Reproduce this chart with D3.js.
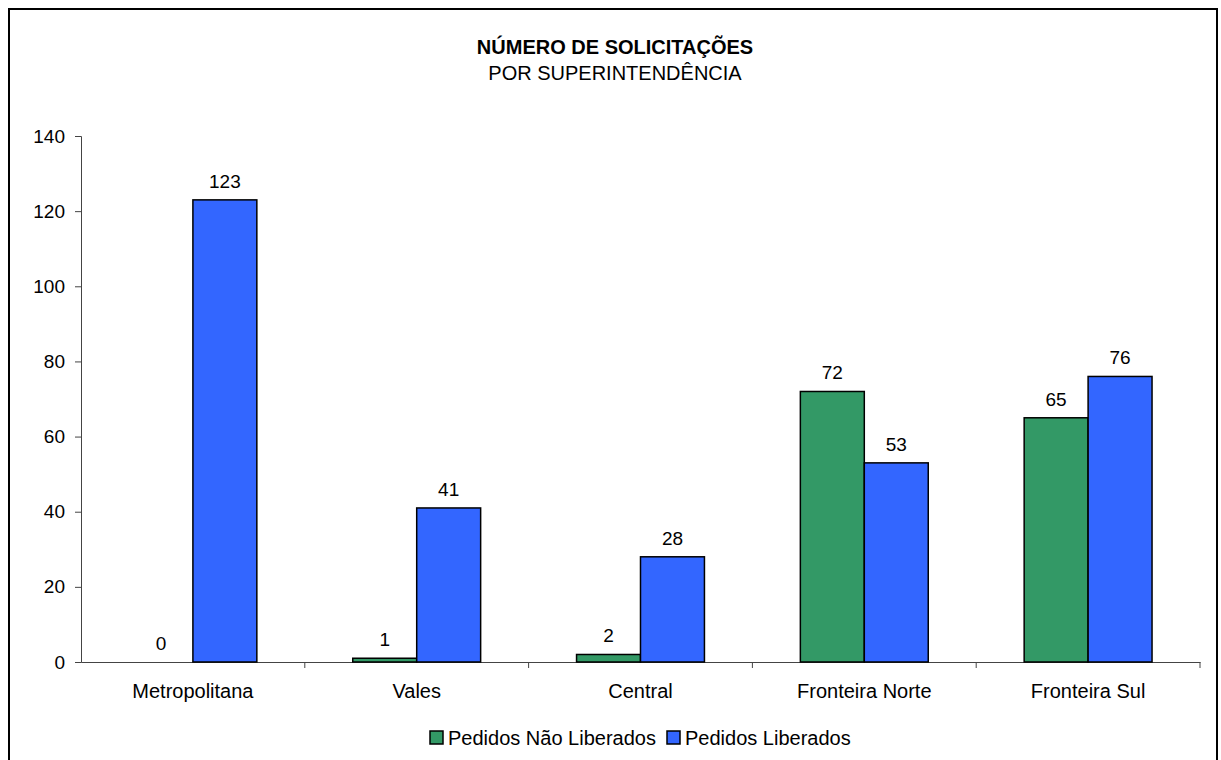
<!DOCTYPE html>
<html>
<head>
<meta charset="utf-8">
<script src="https://cdn.jsdelivr.net/npm/d3@7"></script>
<style>
  body { margin: 0; background: #fff; }
  text { font-family: "Liberation Sans", Arial, sans-serif; fill: #000; }
</style>
</head>
<body>
<div id="chart"></div>
<script>
// Data
const categories = ["Metropolitana", "Vales", "Central", "Fronteira Norte", "Fronteira Sul"];
const seriesNames = ["Pedidos Não Liberados", "Pedidos Liberados"];
const naoLiberados = [0, 1, 2, 72, 65];
const liberados = [123, 41, 28, 53, 76];
const yTicks = [0, 20, 40, 60, 80, 100, 120, 140];
const colors = ["#339966", "#3366FF"];

const W = 1221, H = 760;
const margin = {top: 136, right: 21, bottom: 98, left: 81};
const width = W - margin.left - margin.right,
      height = H - margin.top - margin.bottom;
const font = "Liberation Sans, Arial, sans-serif";

const svg = d3.select("#chart")
    .append("svg")
    .attr("width", W)
    .attr("height", H);

// outer frame
svg.append("rect")
    .attr("x", 9).attr("y", 9)
    .attr("width", 1208).attr("height", H)
    .attr("fill", "none")
    .attr("stroke", "#000")
    .attr("stroke-width", 2);

// Title
svg.append("text")
    .attr("x", 615).attr("y", 54)
    .attr("text-anchor", "middle")
    .style("font-size", "20px")
    .style("font-weight", "bold")
    .text("NÚMERO DE SOLICITAÇÕES");
svg.append("text")
    .attr("x", 615).attr("y", 80)
    .attr("text-anchor", "middle")
    .style("font-size", "20px")
    .text("POR SUPERINTENDÊNCIA");

const g = svg.append("g")
    .attr("transform", `translate(${margin.left},${margin.top})`);

// Scales
const x0 = d3.scaleBand()
    .domain(categories)
    .range([0, width]);

// two bars per category, gap width 150%
const bw = x0.bandwidth() / 3.5;
const x1 = d3.scaleBand()
    .domain([0, 1])
    .range([bw * 0.75, bw * 2.75]);

const y = d3.scaleLinear()
    .domain([0, 140])
    .range([height, 0]);

// Y axis
g.append("g")
    .call(d3.axisLeft(y).tickValues(yTicks).tickSize(6).tickPadding(10))
    .call(a => a.select(".domain").attr("stroke", "#444"))
    .call(a => a.selectAll(".tick line").attr("stroke", "#444"))
    .call(a => a.selectAll("text").style("font-size", "19px").style("font-family", font).attr("fill", "#000"));

// X axis
g.append("g")
    .attr("transform", `translate(0,${height})`)
    .call(d3.axisBottom(x0).tickSize(0).tickPadding(22))
    .call(a => a.select(".domain").attr("stroke", "#444"))
    .call(a => a.selectAll("text").style("font-size", "20px").style("font-family", font).attr("fill", "#000"));

// tick marks between categories
g.append("g")
    .selectAll("line")
    .data(d3.range(1, categories.length + 1))
    .join("line")
    .attr("x1", i => i * x0.step())
    .attr("x2", i => i * x0.step())
    .attr("y1", height)
    .attr("y2", height + 6)
    .attr("stroke", "#444");

// Bars
const rows = categories.map((c, i) => ({cat: c, vals: [naoLiberados[i], liberados[i]]}));

const groups = g.selectAll(".grp")
    .data(rows)
    .join("g")
    .attr("class", "grp")
    .attr("transform", d => `translate(${x0(d.cat)},0)`);

groups.selectAll("rect")
    .data(d => d.vals.map((v, k) => ({k, v})).filter(d => d.v > 0))
    .join("rect")
    .attr("x", d => x1(d.k))
    .attr("width", x1.bandwidth())
    .attr("y", d => y(d.v))
    .attr("height", d => y(0) - y(d.v))
    .attr("fill", d => colors[d.k])
    .attr("stroke", "#000")
    .attr("stroke-width", 1.5);

// data labels
groups.selectAll(".lbl")
    .data(d => d.vals.map((v, k) => ({k, v})))
    .join("text")
    .attr("class", "lbl")
    .attr("x", d => x1(d.k) + x1.bandwidth() / 2)
    .attr("y", d => y(d.v) - 12)
    .attr("text-anchor", "middle")
    .style("font-size", "19px")
    .text(d => d.v);

// Legend
const legend = svg.append("g");
const legendX = [430, 667];
seriesNames.forEach((s, i) => {
    legend.append("rect")
        .attr("x", legendX[i]).attr("y", 731)
        .attr("width", 13).attr("height", 13)
        .attr("fill", colors[i])
        .attr("stroke", "#000")
        .attr("stroke-width", 1.5);
    legend.append("text")
        .attr("x", legendX[i] + 18).attr("y", 745)
        .style("font-size", "20px")
        .text(s);
});
</script>
</body>
</html>
